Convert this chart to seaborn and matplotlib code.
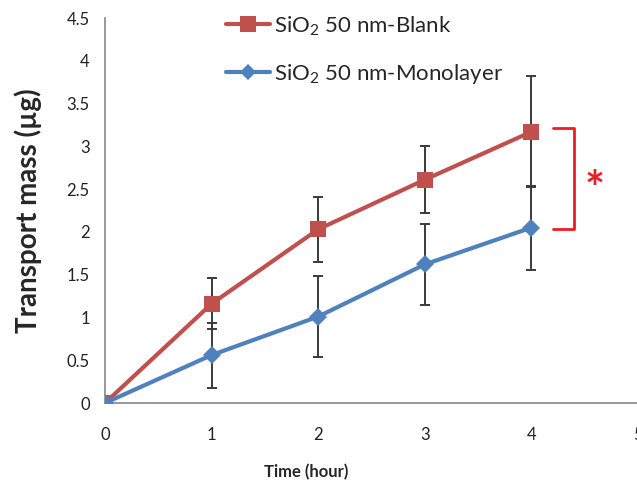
import numpy as np
import pandas as pd
import seaborn as sns
import matplotlib
matplotlib.use("Agg")
import matplotlib.pyplot as plt
from matplotlib.lines import Line2D

# Measured transport over time
hours = [0, 1, 2, 3, 4]
blank_mean = [0.0, 1.16, 2.03, 2.61, 3.17]
blank_err = [0.0, 0.30, 0.38, 0.39, 0.65]
mono_mean = [0.0, 0.56, 1.01, 1.62, 2.05]
mono_err = [0.0, 0.38, 0.47, 0.47, 0.49]
series_names = ["SiO$_2$ 50 nm-Blank", "SiO$_2$ 50 nm-Monolayer"]
y_ticks = [0, 0.5, 1, 1.5, 2, 2.5, 3, 3.5, 4, 4.5]
x_ticks = [0, 1, 2, 3, 4, 5]

sns.set_theme(style="white")
plt.rcParams["font.family"] = ["Lato", "DejaVu Sans"]
plt.rcParams["mathtext.fontset"] = "custom"
plt.rcParams["mathtext.rm"] = "Lato"

red = "#C0504D"
blue = "#4F81BD"
spine_col = "#868686"

df = pd.DataFrame({
    "hour": hours * 2,
    "mass": blank_mean + mono_mean,
    "err": blank_err + mono_err,
    "series": [series_names[0]] * 5 + [series_names[1]] * 5,
})

fig = plt.figure(figsize=(6.37, 4.90), dpi=100)
ax = fig.add_axes([105 / 637, 1 - 403 / 490, 533 / 637, 385 / 490])

# error bars first so the lines sit on top
for name in series_names:
    sub = df[df["series"] == name]
    ax.errorbar(sub["hour"], sub["mass"], yerr=sub["err"], fmt="none",
                ecolor="#3a3a3a", elinewidth=1.4, capsize=3.8, capthick=1.4,
                zorder=2)

sns.lineplot(data=df, x="hour", y="mass", hue="series", style="series",
             palette=[red, blue], markers=["s", "D"], dashes=False,
             linewidth=3, markersize=12, markeredgewidth=0, ax=ax,
             legend=False, zorder=3)
# smaller diamond for the monolayer series
ax.lines[-1].set_markersize(9)

ax.set_xlim(0, 5)
ax.set_ylim(0, 4.5)
ax.set_xticks(x_ticks)
ax.set_yticks(y_ticks)
ax.set_yticklabels([f"{v:g}" for v in y_ticks])
ax.tick_params(axis="both", which="both", direction="out", length=5,
               width=1, color=spine_col, labelsize=12, labelcolor="#222222")
ax.tick_params(axis="x", pad=12)
ax.tick_params(axis="y", pad=6)
for side in ["top", "right"]:
    ax.spines[side].set_visible(False)
for side in ["left", "bottom"]:
    ax.spines[side].set_color(spine_col)
    ax.spines[side].set_linewidth(1.2)

ax.set_xlabel("Time (hour)", fontsize=12, fontweight="bold")
ax.xaxis.set_label_coords((306 - 105) / 533, -(464 - 403) / 385)
ax.set_ylabel("Transport mass (µg)", fontsize=20, fontweight="bold")
ax.yaxis.set_label_coords(-(105 - 42) / 533, 0.5)

handles = [
    Line2D([], [], color=red, lw=3, marker="s", markersize=11, markeredgewidth=0),
    Line2D([], [], color=blue, lw=3, marker="D", markersize=8, markeredgewidth=0),
]
ax.legend(handles, series_names, loc="upper left",
          bbox_to_anchor=(206 / 637, 1 + 6 / 490), bbox_transform=fig.transFigure,
          frameon=False, fontsize=16, labelspacing=1.1, handlelength=2.0,
          handletextpad=0.15)

# significance bracket between the two series at 4 h
bx0, bx1 = 4.2, 4.4
ax.plot([bx0, bx1, bx1, bx0], [3.21, 3.21, 2.03, 2.03], color="#EE1C25",
        lw=2, clip_on=False, zorder=4)
ax.text(4.59, 2.48, "*", color="#EE1C25", fontsize=34, fontweight="bold",
        ha="center", va="center")

fig.savefig("out.png", dpi=100)
